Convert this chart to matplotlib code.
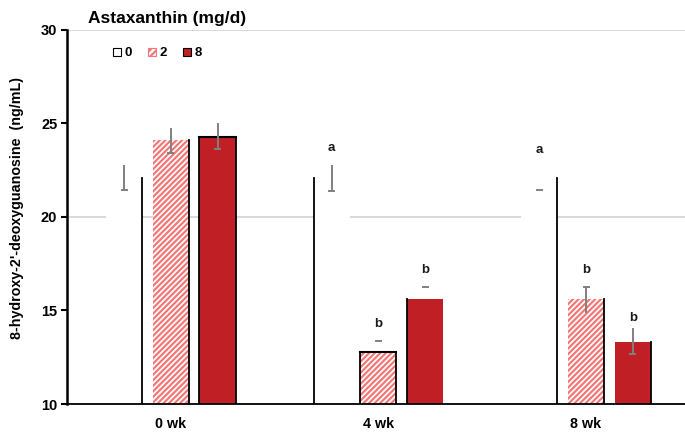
import numpy as np
import matplotlib
matplotlib.use("Agg")
import matplotlib.pyplot as plt
from matplotlib.patches import Patch

plt.rcParams['font.family'] = ['Liberation Sans', 'DejaVu Sans']
plt.rcParams['hatch.linewidth'] = 1.6

# data
weeks = ["0 wk", "4 wk", "8 wk"]
doses = ["0", "2", "8"]
means = {
    "0": [22.1, 22.1, 22.1],
    "2": [24.1, 12.8, 15.6],
    "8": [24.3, 15.6, 13.3],
}
# error bar ends (low, high) as drawn
err_lo = {
    "0": [21.45, 21.4, 21.45],
    "2": [23.4, 13.37, 14.9],
    "8": [23.65, 16.26, 12.65],
}
err_hi = {
    "0": [22.75, 22.75, 21.45],
    "2": [24.7, 13.37, 16.25],
    "8": [24.95, 16.26, 14.0],
}
letters = {
    "0": ["", "a", "a"],
    "2": ["", "b", "b"],
    "8": ["", "b", "b"],
}
letter_y = {
    "0": [0, 23.7, 23.6],
    "2": [0, 14.3, 17.15],
    "8": [0, 17.15, 14.6],
}

red = "#c01f26"
stripe = "#f47878"
grey = "#808080"

fig = plt.figure(figsize=(6.85, 4.32), dpi=100)
ax = fig.add_axes([0.0978, 0.0648, 0.905, 0.8658])

x = np.arange(len(weeks))
w = 0.174
offs = {"0": -0.225, "2": 0.0, "8": 0.225}
edges = {
    "0": ["r", "l", "r"],
    "2": ["r", "lrt", "r"],
    "8": ["lrt", "l", "r"],
}
cap_top = {
    "0": [False, False, False],
    "2": [False, False, True],
    "8": [False, False, False],
}

for d in doses:
    xs = x + offs[d]
    if d == "0":
        ax.bar(xs, np.array(means[d]) - 10, w, bottom=10, color="white", lw=0, zorder=2)
    elif d == "2":
        ax.bar(xs, np.array(means[d]) - 10, w, bottom=10, color="white",
               edgecolor=stripe, hatch="//////", lw=0, zorder=2)
    else:
        ax.bar(xs, np.array(means[d]) - 10, w, bottom=10, color=red, lw=0, zorder=2)
    for xi, m, e in zip(xs, means[d], edges[d]):
        if "l" in e:
            ax.plot([xi - w / 2, xi - w / 2], [10, m], color="black", lw=1.3, zorder=3)
        if "r" in e:
            ax.plot([xi + w / 2, xi + w / 2], [10, m], color="black", lw=1.3, zorder=3)
        if "t" in e:
            ax.plot([xi - w / 2, xi + w / 2], [m, m], color="black", lw=1.5, zorder=3)
    for xi, lo, hi, ct in zip(xs, err_lo[d], err_hi[d], cap_top[d]):
        if hi > lo:
            ax.plot([xi, xi], [lo, hi], color=grey, lw=1.4, zorder=4)
        cy = hi if ct else lo
        ax.plot([xi - 0.012, xi + 0.012], [cy, cy], color=grey, lw=1.4, zorder=4)
    for xi, t, ty in zip(xs, letters[d], letter_y[d]):
        if t:
            ax.text(xi, ty, t, ha="center", va="center", fontsize=9.5,
                    fontweight="bold", color="#1a1a1a", zorder=5)

ax.set_xlim(-0.5, 2.486)
ax.set_ylim(10, 30)
ax.set_yticks([10, 15, 20, 25, 30])
ax.set_xticks(x)
ax.set_xticklabels(weeks, fontsize=10.3, fontweight="bold")
for lab in ax.get_yticklabels():
    lab.set_fontweight("bold")
    lab.set_fontsize(10.5)
ax.tick_params(axis="x", length=0, pad=9)
ax.tick_params(axis="y", length=4, width=1.5, direction="out", pad=3)

for yg in [20, 30]:
    ax.axhline(yg, color="#d9d9d9", lw=1.4, zorder=1)

for s in ["top", "right"]:
    ax.spines[s].set_visible(False)
ax.spines["left"].set_linewidth(1.8)
ax.spines["bottom"].set_linewidth(1.3)

ax.set_ylabel("8-hydroxy-2'-deoxyguanosine  (ng/mL)", fontsize=10.3,
              fontweight="bold")
ax.yaxis.set_label_coords(-0.069, 0.525)
fig.text(0.128, 0.958, "Astaxanthin (mg/d)", fontsize=12.5, fontweight="bold",
         va="center", ha="left")

handles = [
    Patch(facecolor="white", edgecolor="black", lw=0.8),
    Patch(facecolor="white", edgecolor=stripe, hatch="/////", lw=0.8),
    Patch(facecolor=red, edgecolor="black", lw=0.8),
]
leg = ax.legend(handles, doses, ncol=3, frameon=False, loc="upper left",
                bbox_to_anchor=(0.055, 0.985), handlelength=0.6, handleheight=0.6,
                handletextpad=0.3, columnspacing=1.2,
                prop={"weight": "bold", "size": 9.5})

fig.savefig("out.png", dpi=100)
